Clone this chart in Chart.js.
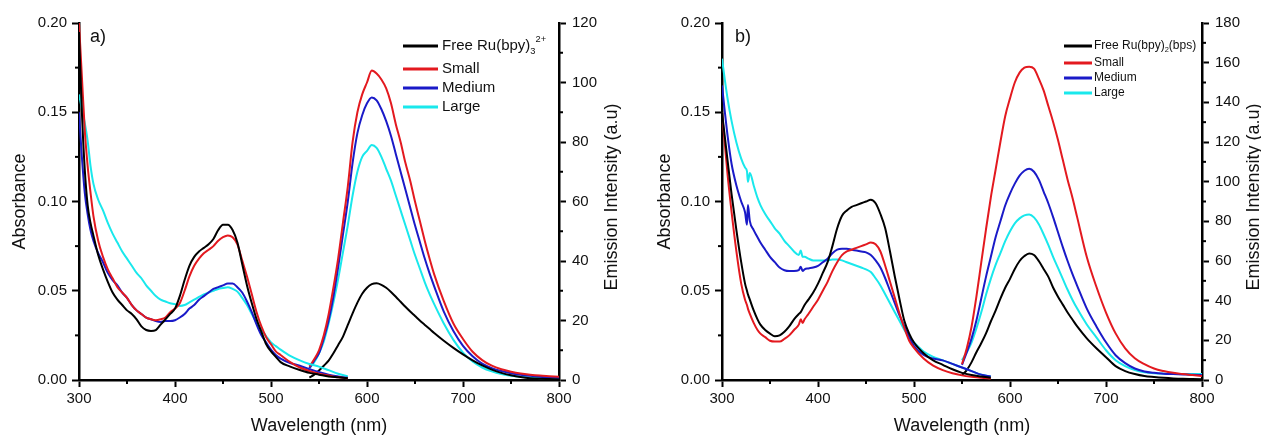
<!DOCTYPE html>
<html><head><meta charset="utf-8">
<script src="https://cdn.jsdelivr.net/npm/chart.js@4.4.0/dist/chart.umd.min.js"></script>
<style>
html,body{margin:0;padding:0;background:#fff;overflow:hidden;width:1261px;height:437px;}
canvas{position:absolute;top:0;}
#ca{left:0;} #cb{left:640px;}
</style></head><body>
<canvas id="ca" width="630" height="437"></canvas>
<canvas id="cb" width="625" height="437"></canvas>
<script>
// ---------- DATA (panel a) ----------
const seriesLabelsA = ['Free Ru(bpy)_{3}^{2+}', 'Small', 'Medium', 'Large'];
const seriesLabelsB = ['Free Ru(bpy)_{2}(bps)', 'Small', 'Medium', 'Large'];
const seriesColors = ['#000000', '#e3191f', '#1a1ac8', '#19e8ec'];

const wlAbsA = [300,303,306,309,312,315,320,325,330,335,340,345,350,355,360,365,370,375,380,385,390,395,400,405,410,415,420,425,430,435,440,445,450,455,460,465,470,475,480,485,490,495,500,505,510,520,530,540,550,560,570,580];
const absA_free   = [.195,.150,.118,.098,.088,.081, .070,.062,.055,.049,.045,.042,.039,.037,.034,.030, .028,.0275,.028,.031,.034,.037,.040,.047,.056,.064, .069,.072,.074,.076,.079,.084,.087,.087,.084,.077, .065,.053,.043,.034,.027,.020,.016,.013,.010, .0075,.0056,.004,.003,.002,.0015,.001];
const absA_small  = [.200,.170,.140,.120,.105,.092, .078,.069,.062,.057,.052,.049,.046,.042,.039,.037, .035,.034,.0335,.034,.035,.038,.040,.043,.050,.058, .064,.068,.071,.073,.075,.078,.080,.081,.080,.076, .067,.058,.048,.038,.030,.024,.020,.016,.014, .010,.007,.005,.0035,.0025,.0015,.001];
const absA_medium = [.150,.125,.105,.093,.084,.078, .071,.066,.060,.056,.053,.049,.046,.042,.039,.037, .035,.034,.033,.0325,.033,.033,.0335,.035,.037,.040, .042,.045,.047,.049,.051,.052,.053,.054,.054,.052, .049,.044,.038,.031,.025,.021,.017,.014,.012, .0095,.008,.006,.0045,.003,.002,.0012];
const absA_large  = [.160,.152,.144,.134,.120,.110, .101,.095,.088,.082,.077,.072,.068,.064,.060,.057, .053,.050,.047,.045,.044,.043,.0425,.0415,.042,.0435, .045,.0465,.048,.049,.050,.051,.0515,.052,.051,.0495, .046,.042,.037,.032,.028,.0245,.021,.019,.017, .0135,.011,.009,.0075,.0055,.0035,.002];

const wlEmA = [540,545,550,555,560,565,570,575,580,585,590,595,600,605,610,615,620,625,630,635,640,645,650,655,660,665,670,680,690,700,710,720,730,740,750,760,770,780,790,800];
const emA_free   = [.8,1.8,3.2,4.8,6.5,9,11.8,14.6,18.5,22.4, 26,29,31,32.2,32.5,32,31,29.6,28,26.3, 24.6,23,21.5,20,18.6,17.2,15.8, 13.2,10.8,8.6,6.6,4.9,3.5,2.4,1.6,1.0,.6,.4,.3,.2];
const emA_small  = [4.5,7,10,15,22,31,41,53,65,80, 90,96,100,104,103,101,98,93,86,80, 73,67,60,53.5,47,41,35.5, 26.5,19,13.8,9.5,6.7,4.8,3.6,2.8,2.2,1.8,1.5,1.3,1.1];
const emA_medium = [4,6.5,9,14,20,28,38,49,60,73, 83,89,93,95,94,91,87,82,76,70, 64,58,52,46.5,41,36,31.5, 23,16.5,11.5,8,5.5,4,3,2.3,1.8,1.4,1.1,.9,.7];
const emA_large  = [4,6,9,13,19,26,34,43,52,62, 70,75,77,79,78,75,71,67,62,57, 52,47,42,37.5,33,29,25.5, 19,13.5,9.2,6.2,4.2,2.9,2,1.4,1.1,.8,.6,.5,.4];

// ---------- DATA (panel b) ----------
const wlAbsB = [300,303,306,310,315,320,324,326,327,329,333,337,340,345,350,355,360,365,370,375,380,382,384,386,390,395,400,405,410,415,420,425,430,435,440,445,450,455,460,465,470,475,480,485,490,495,500,510,520,530,540,550,560,570,580];
const absB_free   = [.150,.136,.122,.104,.084,.066,.054,.050,.048,.045,.039,.034, .031,.028,.026,.0245,.025,.027,.030,.034,.037, .038,.040,.042, .045,.049,.054,.060,.066,.075,.085,.092,.095,.097, .098,.099,.100,.101,.099,.093,.085,.072,.058,.045, .033,.026,.021, .015,.011,.0085,.006,.004,.0028,.002,.0013];
const absB_small  = [.150,.132,.114,.094,.072,.054,.045,.042,.040,.037,.032,.028, .026,.024,.022,.0215,.0215,.023,.025,.028,.031, .034,.032,.034, .037,.041,.045,.050,.055,.061,.066,.070,.072,.073, .074,.075,.076,.077,.076,.072,.064,.055,.046,.037, .029,.022,.018, .012,.008,.0055,.0038,.0026,.0018,.0012,.0008];
const absB_medium = [.165,.150,.136,.121,.109,.100,.094,.087,.098,.089,.084,.080, .077,.073,.069,.066,.063,.0615,.061,.061,.0615, .0635,.061,.062, .0625,.063,.064,.066,.068,.071,.073,.0735,.0735,.073, .0725,.072,.0715,.070,.067,.063,.057,.050,.043,.036, .030,.024,.019, .014,.012,.011,.009,.007,.005,.003,.002];
const absB_large  = [.180,.168,.157,.145,.133,.124,.119,.117,.111,.116,.109,.102, .098,.093,.089,.085,.082,.078,.075,.072,.070, .0725,.069,.069, .068,.067,.067,.067,.067,.0675,.0675,.067,.066,.065, .064,.063,.062,.0605,.057,.053,.048,.043,.038,.033, .028,.024,.021, .016,.013,.011,.009,.007,.005,.003,.002];

const wlEmB = [550,555,560,565,570,575,580,585,590,595,600,605,610,615,620,625,630,635,640,645,650,655,660,665,670,680,690,700,710,720,730,740,750,760,770,780,790,800];
const emB_free   = [2.5,5,9,14,18.5,23.5,29.5,35,41,46.5, 51,56,60,62.5,63.8,63,60,56,52,46.5, 42,38,34,30.5,27, 21,16,11.5,7,4.5,3,2,1.5,1.1,.8,.6,.5,.4];
const emB_small  = [8,16,27,42,59,76,92,106,120,133, 142,150,155,157.5,158,157,152,146,138,130, 121,111,101,92,82, 62,47,34,23.5,16,11,8,5.8,4.5,3.6,3,2.5,2];
const emB_medium = [7.6,14,21,30,41,52,62,72,80,88, 94,99,103,105.5,106.5,105,101,95,89,82, 74.5,67,60,53.5,47.5, 36,27,19,12.5,8.5,5.8,4.3,3.6,3.2,3,2.8,2.6,2.5];
const emB_large  = [10,14,19,26,34,43,51,58,64,70, 75,79,81.5,83,83.5,82,78.5,73.5,68,62, 56.5,51,45.5,40.5,36, 28,21.5,15,10,7,5,3.9,3.4,3.2,3.1,3,3,3];

// ---------- RENDERING ----------
const FONT = "'Liberation Sans', Arial, Helvetica, sans-serif";
Chart.defaults.font.family = FONT;
Chart.defaults.color = '#111';

function pts(xs, ys) { return xs.map((x, i) => ({x: x, y: ys[i]})); }

function drawRich(ctx, str, x, y, size) {
  const parts = str.split(/(_\{[^}]*\}|\^\{[^}]*\})/).filter(s => s);
  ctx.textBaseline = 'middle';
  ctx.textAlign = 'left';
  ctx.fillStyle = '#111';
  parts.forEach(p => {
    let t = p, sz = size, dy = 0;
    if (p.startsWith('_{')) { t = p.slice(2, -1); sz = size * 0.62; dy = size * 0.34; }
    else if (p.startsWith('^{')) { t = p.slice(2, -1); sz = size * 0.62; dy = -size * 0.45; }
    ctx.font = sz + 'px ' + FONT;
    ctx.fillText(t, x, y + dy);
    x += ctx.measureText(t).width;
  });
}

const overlay = {
  id: 'overlay',
  afterDraw(chart, args, o) {
    const ctx = chart.ctx, a = chart.chartArea;
    ctx.save();
    ctx.strokeStyle = '#000';
    ctx.lineWidth = 2;
    o.minor.forEach(m => {
      const s = chart.scales[m.axis];
      const n = Math.round((s.max - s.min) / m.step);
      const ratio = Math.round(m.major / m.step);
      for (let i = 0; i <= n; i++) {
        if (i % ratio === 0) continue;
        const p = s.getPixelForValue(s.min + i * m.step);
        ctx.beginPath();
        if (m.axis === 'x') { ctx.moveTo(p, a.bottom); ctx.lineTo(p, a.bottom + 4); }
        else if (m.axis === 'y') { ctx.moveTo(a.left, p); ctx.lineTo(a.left - 4, p); }
        else { ctx.moveTo(a.right, p); ctx.lineTo(a.right + 4, p); }
        ctx.stroke();
      }
    });
    // right axis title (reads bottom-to-top)
    ctx.save();
    ctx.translate(o.rightTitle.x, o.rightTitle.y);
    ctx.rotate(-Math.PI / 2);
    ctx.font = '18px ' + FONT;
    ctx.fillStyle = '#111';
    ctx.textAlign = 'center';
    ctx.textBaseline = 'middle';
    ctx.fillText(o.rightTitle.text, 0, 0);
    ctx.restore();
    // panel label
    ctx.font = '18px ' + FONT;
    ctx.fillStyle = '#111';
    ctx.textAlign = 'left';
    ctx.textBaseline = 'alphabetic';
    ctx.fillText(o.panel.text, o.panel.x, o.panel.y);
    // legend
    const L = o.legend;
    L.labels.forEach((lab, i) => {
      const y = L.rows[i];
      ctx.strokeStyle = L.colors[i];
      ctx.lineWidth = 3;
      ctx.beginPath(); ctx.moveTo(L.x0, y); ctx.lineTo(L.x1, y); ctx.stroke();
      drawRich(ctx, lab, L.tx, y, L.size);
    });
    ctx.restore();
  }
};

function makeDatasets(wlAbs, absList, wlEm, emList) {
  const ds = [];
  absList.forEach((arr, i) => ds.push({data: pts(wlAbs, arr), yAxisID: 'y', borderColor: seriesColors[i]}));
  emList.forEach((arr, i) => ds.push({data: pts(wlEm, arr), yAxisID: 'y2', borderColor: seriesColors[i]}));
  return ds;
}

function makeChart(id, p) {
  const tickFont = {size: 15};
  return new Chart(document.getElementById(id), {
    type: 'line',
    data: {datasets: makeDatasets(p.wlAbs, p.abs, p.wlEm, p.em)},
    options: {
      responsive: false, animation: false, events: [],
      layout: {padding: {left: p.padL, right: p.padR, top: 23, bottom: 0}},
      elements: {
        line: {borderWidth: 2, fill: false, cubicInterpolationMode: 'monotone'},
        point: {radius: 0}
      },
      plugins: {
        legend: {display: false}, tooltip: {enabled: false},
        overlay: {
          minor: [{axis: 'x', step: 50, major: 100}, {axis: 'y', step: 0.025, major: 0.05}, {axis: 'y2', step: 10, major: 20}],
          rightTitle: {text: 'Emission Intensity (a.u)', x: p.rtX, y: 197},
          panel: p.panel,
          legend: p.legend
        }
      },
      scales: {
        x: {
          type: 'linear', min: 300, max: 800,
          ticks: {stepSize: 100, font: tickFont, color: '#111', padding: 3, maxRotation: 0, autoSkip: false},
          grid: {display: true, drawOnChartArea: false, tickLength: 7, tickWidth: 2, tickColor: '#000'},
          border: {display: true, width: 2.5, color: '#000'},
          title: {display: true, text: 'Wavelength (nm)', font: {size: 18}, color: '#111', padding: {top: 0, bottom: 0}},
          afterFit(s) { s.height = 57; }
        },
        y: {
          position: 'left', min: 0, max: 0.2,
          ticks: {stepSize: 0.05, font: tickFont, color: '#111', padding: 5, callback: v => Number(v).toFixed(2)},
          grid: {display: true, drawOnChartArea: false, tickLength: 7, tickWidth: 2, tickColor: '#000'},
          border: {display: true, width: 2.5, color: '#000'},
          title: {display: true, text: 'Absorbance', font: {size: 18}, color: '#111', padding: {top: 4, bottom: 0}},
          afterFit(s) { s.width = p.yW; }
        },
        y2: {
          position: 'right', min: 0, max: p.emMax,
          ticks: {stepSize: 20, font: tickFont, color: '#111', padding: 6},
          grid: {display: true, drawOnChartArea: false, tickLength: 7, tickWidth: 2, tickColor: '#000'},
          border: {display: true, width: 2.5, color: '#000'},
          title: {display: false},
          afterFit(s) { s.width = p.y2W; }
        }
      }
    },
    plugins: [overlay]
  });
}

makeChart('ca', {
  wlAbs: wlAbsA, abs: [absA_free, absA_small, absA_medium, absA_large],
  wlEm: wlEmA, em: [emA_free, emA_small, emA_medium, emA_large],
  emMax: 120, padL: 5, padR: 0, yW: 74, y2W: 71, rtX: 612,
  panel: {text: 'a)', x: 90, y: 42},
  legend: {labels: seriesLabelsA, colors: seriesColors, x0: 403, x1: 438, tx: 442, rows: [46, 69, 88, 107], size: 15}
});
makeChart('cb', {
  wlAbs: wlAbsB, abs: [absB_free, absB_small, absB_medium, absB_large],
  wlEm: wlEmB, em: [emB_free, emB_small, emB_medium, emB_large],
  emMax: 180, padL: 10, padR: 0, yW: 72, y2W: 63, rtX: 614,
  panel: {text: 'b)', x: 95, y: 42},
  legend: {labels: seriesLabelsB, colors: seriesColors, x0: 424, x1: 452, tx: 454, rows: [46, 63, 78, 93], size: 12}
});
</script>
</body></html>
